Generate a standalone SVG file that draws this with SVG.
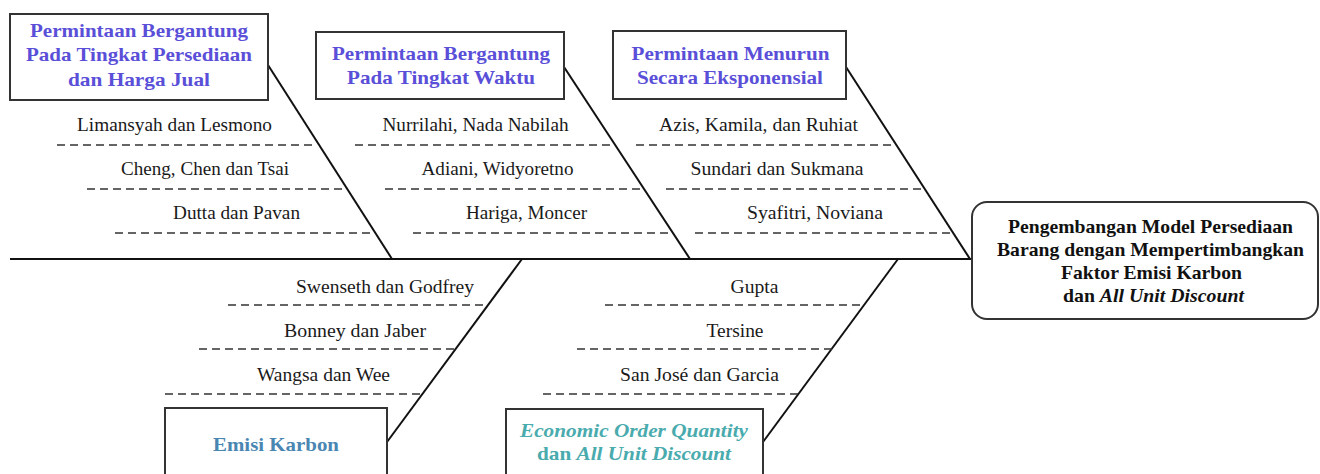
<svg xmlns="http://www.w3.org/2000/svg" width="1320" height="474" viewBox="0 0 1320 474">
<style>
.box{fill:#fff;stroke:#333;stroke-width:2}
.bone{stroke:#111;stroke-width:2;fill:none}
.dash{stroke:#333;stroke-width:1.6;stroke-dasharray:8 5;fill:none}
.lbl{font-family:"Liberation Serif","Times New Roman",serif;font-size:18px;fill:#1a1a1a;text-anchor:middle}
.ttl{font-family:"Liberation Serif","Times New Roman",serif;font-size:19px;font-weight:bold;text-anchor:middle}
.blue{fill:#5a4fd8}
.steel{fill:#4a86b2}
.teal{fill:#4aabae}
.dark{fill:#111}
.it{font-style:italic}
</style>
<rect width="1320" height="474" fill="#fff"/>
<g id="connectors">
<line class="bone" x1="10" y1="259" x2="973" y2="259"/>
<line class="bone" x1="268" y1="65" x2="392" y2="259"/>
<line class="bone" x1="564" y1="67" x2="690" y2="259"/>
<line class="bone" x1="846" y1="67" x2="970" y2="259"/>
<line class="bone" x1="387" y1="442" x2="522" y2="259"/>
<line class="bone" x1="763" y1="442" x2="898" y2="259"/>
<line class="dash" x1="57" y1="145" x2="315" y2="145"/>
<line class="dash" x1="87" y1="189" x2="344" y2="189"/>
<line class="dash" x1="115" y1="233" x2="373" y2="233"/>
<line class="dash" x1="355" y1="145" x2="613" y2="145"/>
<line class="dash" x1="385" y1="189" x2="642" y2="189"/>
<line class="dash" x1="413" y1="233" x2="670" y2="233"/>
<line class="dash" x1="636" y1="145" x2="894" y2="145"/>
<line class="dash" x1="666" y1="189" x2="923" y2="189"/>
<line class="dash" x1="695" y1="233" x2="953" y2="233"/>
<line class="dash" x1="228" y1="305" x2="487" y2="305"/>
<line class="dash" x1="199" y1="349" x2="455" y2="349"/>
<line class="dash" x1="165" y1="394" x2="423" y2="394"/>
<line class="dash" x1="605" y1="305" x2="864" y2="305"/>
<line class="dash" x1="577" y1="349" x2="833" y2="349"/>
<line class="dash" x1="543" y1="394" x2="799" y2="394"/>
</g>
<g id="labels">
<text class="lbl" x="174.5" y="131" textLength="195" lengthAdjust="spacingAndGlyphs">Limansyah dan Lesmono</text>
<text class="lbl" x="205" y="175" textLength="168" lengthAdjust="spacingAndGlyphs">Cheng, Chen dan Tsai</text>
<text class="lbl" x="236.5" y="219" textLength="127" lengthAdjust="spacingAndGlyphs">Dutta dan Pavan</text>
<text class="lbl" x="475.5" y="131" textLength="186" lengthAdjust="spacingAndGlyphs">Nurrilahi, Nada Nabilah</text>
<text class="lbl" x="497.5" y="175" textLength="152" lengthAdjust="spacingAndGlyphs">Adiani, Widyoretno</text>
<text class="lbl" x="526.5" y="219" textLength="121" lengthAdjust="spacingAndGlyphs">Hariga, Moncer</text>
<text class="lbl" x="758.5" y="131" textLength="199" lengthAdjust="spacingAndGlyphs">Azis, Kamila, dan Ruhiat</text>
<text class="lbl" x="777" y="175" textLength="173" lengthAdjust="spacingAndGlyphs">Sundari dan Sukmana</text>
<text class="lbl" x="815" y="219" textLength="136" lengthAdjust="spacingAndGlyphs">Syafitri, Noviana</text>
<text class="lbl" x="385" y="293" textLength="178" lengthAdjust="spacingAndGlyphs">Swenseth dan Godfrey</text>
<text class="lbl" x="355" y="337" textLength="142" lengthAdjust="spacingAndGlyphs">Bonney dan Jaber</text>
<text class="lbl" x="323.5" y="381" textLength="133" lengthAdjust="spacingAndGlyphs">Wangsa dan Wee</text>
<text class="lbl" x="754.5" y="293" textLength="48" lengthAdjust="spacingAndGlyphs">Gupta</text>
<text class="lbl" x="735" y="337" textLength="57" lengthAdjust="spacingAndGlyphs">Tersine</text>
<text class="lbl" x="699.5" y="381" textLength="159" lengthAdjust="spacingAndGlyphs">San José dan Garcia</text>
</g>
<g id="cat-persediaan-harga">
<rect class="box" x="10" y="14" width="258" height="86"/>
<text class="ttl blue" x="139" y="37" textLength="218" lengthAdjust="spacingAndGlyphs">Permintaan Bergantung</text>
<text class="ttl blue" x="139" y="61" textLength="226" lengthAdjust="spacingAndGlyphs">Pada Tingkat Persediaan</text>
<text class="ttl blue" x="139" y="86" textLength="142" lengthAdjust="spacingAndGlyphs">dan Harga Jual</text>
</g>
<g id="cat-waktu">
<rect class="box" x="316" y="32" width="248" height="67"/>
<text class="ttl blue" x="441" y="60" textLength="218" lengthAdjust="spacingAndGlyphs">Permintaan Bergantung</text>
<text class="ttl blue" x="441" y="84" textLength="188" lengthAdjust="spacingAndGlyphs">Pada Tingkat Waktu</text>
</g>
<g id="cat-eksponensial">
<rect class="box" x="613" y="31" width="233" height="68"/>
<text class="ttl blue" x="730.5" y="60" textLength="198" lengthAdjust="spacingAndGlyphs">Permintaan Menurun</text>
<text class="ttl blue" x="730" y="84" textLength="186" lengthAdjust="spacingAndGlyphs">Secara Eksponensial</text>
</g>
<g id="cat-emisi">
<rect class="box" x="165" y="408" width="222" height="90"/>
<text class="ttl steel" x="276" y="451" textLength="126" lengthAdjust="spacingAndGlyphs">Emisi Karbon</text>
</g>
<g id="cat-eoq">
<rect class="box" x="506" y="409" width="257" height="90"/>
<text class="ttl teal it" x="634" y="437" textLength="228" lengthAdjust="spacingAndGlyphs">Economic Order Quantity</text>
<text class="ttl teal" x="634" y="460" textLength="194" lengthAdjust="spacingAndGlyphs">dan <tspan class="it">All Unit Discount</tspan></text>
</g>
<g id="effect">
<rect class="box" x="972" y="202" width="346" height="117" rx="15"/>
<text class="ttl dark" x="1150.5" y="233" textLength="285" lengthAdjust="spacingAndGlyphs">Pengembangan Model Persediaan</text>
<text class="ttl dark" x="1150.5" y="256" textLength="307" lengthAdjust="spacingAndGlyphs">Barang dengan Mempertimbangkan</text>
<text class="ttl dark" x="1151.5" y="279" textLength="181" lengthAdjust="spacingAndGlyphs">Faktor Emisi Karbon</text>
<text class="ttl dark" x="1153.5" y="302" textLength="181" lengthAdjust="spacingAndGlyphs">dan <tspan class="it">All Unit Discount</tspan></text>
</g>
</svg>
